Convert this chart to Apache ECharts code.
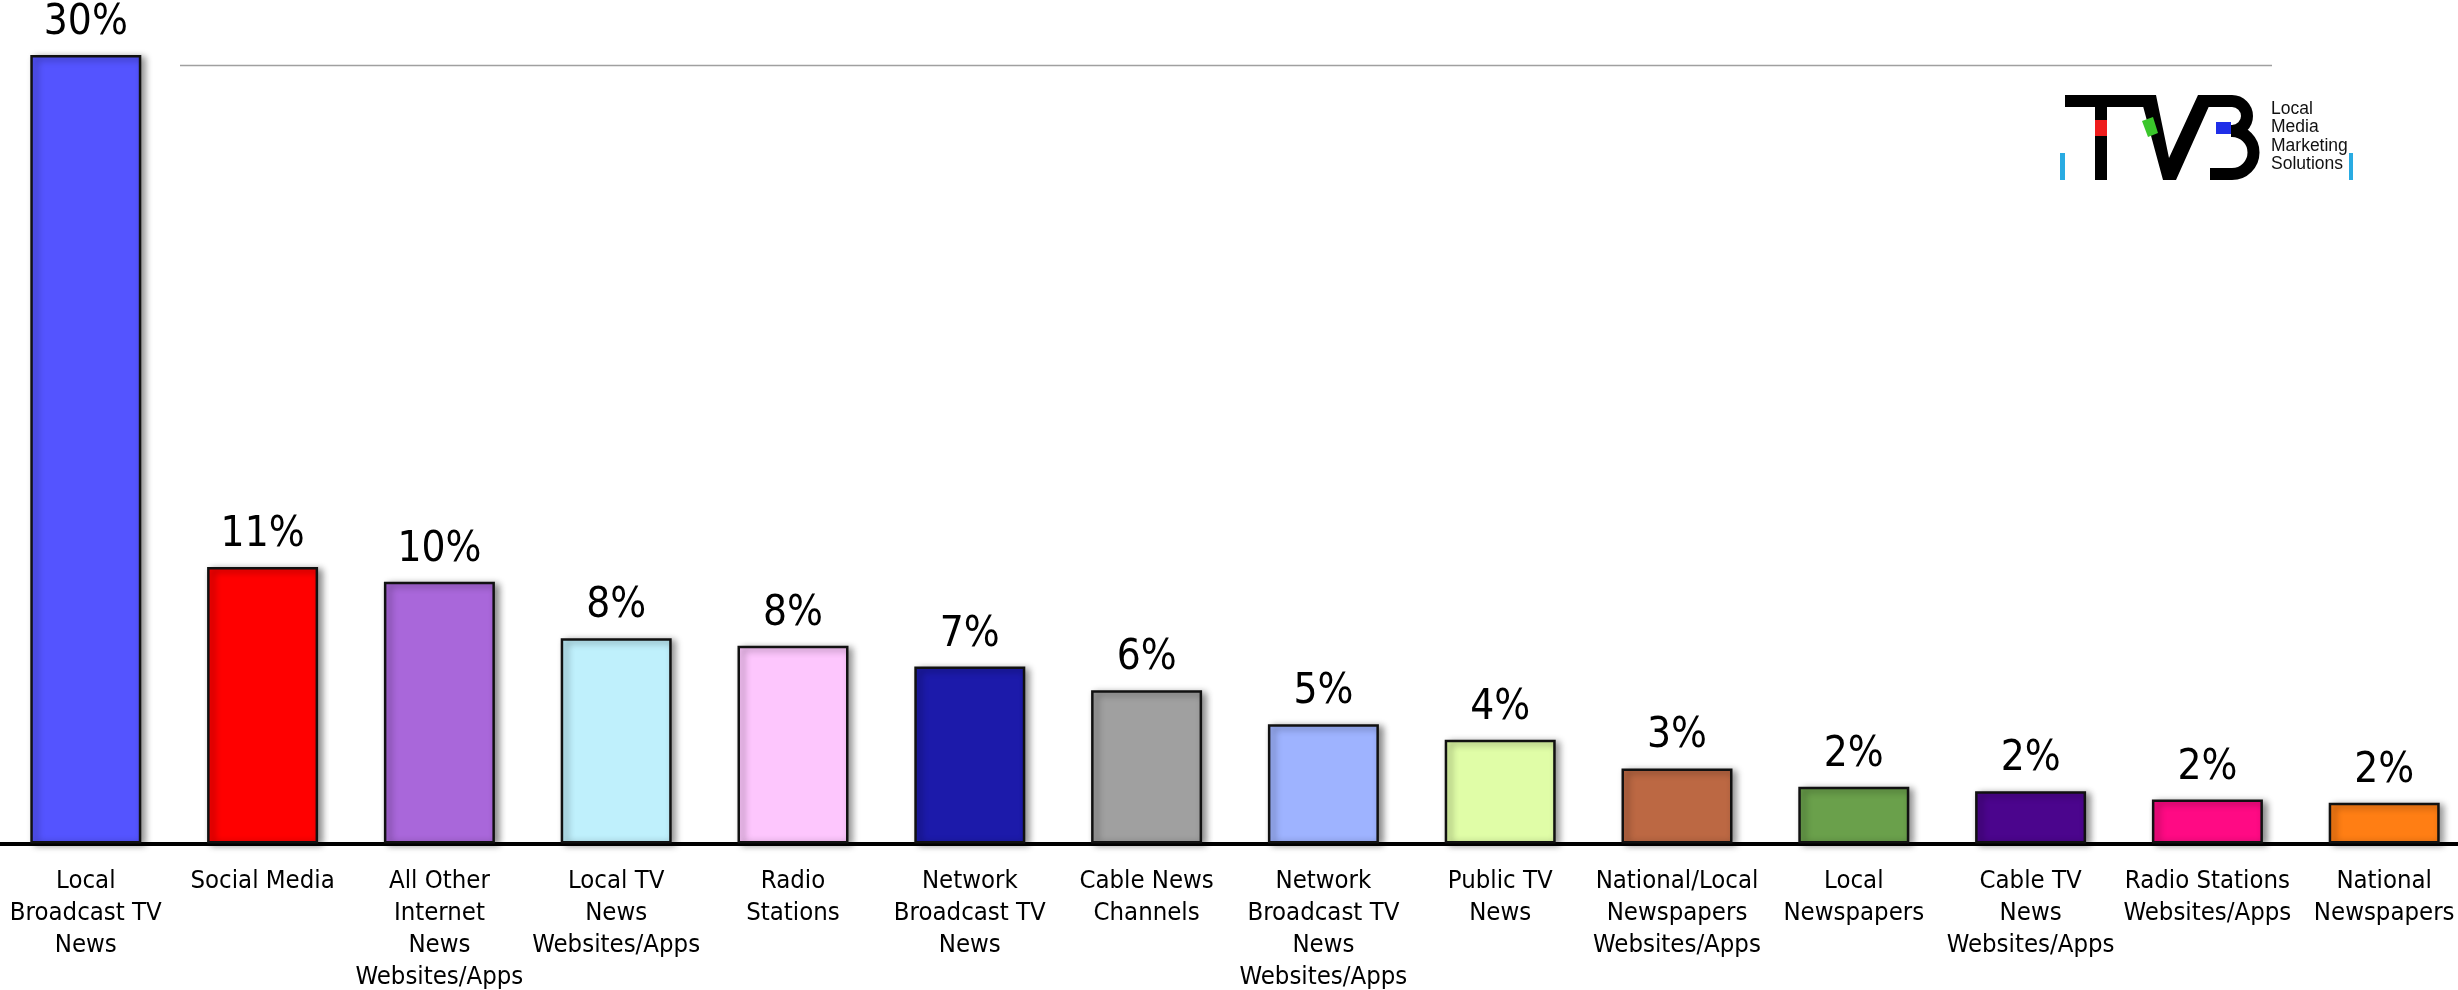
<!DOCTYPE html>
<html>
<head>
<meta charset="utf-8">
<title>News Sources</title>
<script src="https://cdn.jsdelivr.net/npm/echarts@6/dist/echarts.min.js"></script>
<style>
  html, body { margin: 0; padding: 0; background: #ffffff; }
  #chart { width: 2458px; height: 990px; }
</style>
</head>
<body>
<div id="chart"></div>
<script>
// Category names (line breaks as set on the axis)
const categories = [
  'Local\nBroadcast TV\nNews',
  'Social Media',
  'All Other\nInternet\nNews\nWebsites/Apps',
  'Local TV\nNews\nWebsites/Apps',
  'Radio\nStations',
  'Network\nBroadcast TV\nNews',
  'Cable News\nChannels',
  'Network\nBroadcast TV\nNews\nWebsites/Apps',
  'Public TV\nNews',
  'National/Local\nNewspapers\nWebsites/Apps',
  'Local\nNewspapers',
  'Cable TV\nNews\nWebsites/Apps',
  'Radio Stations\nWebsites/Apps',
  'National\nNewspapers'
];

// Share of respondents, percent
const shares = [30, 10.52, 9.96, 7.81, 7.52, 6.73, 5.83, 4.54, 3.95, 2.85, 2.16, 1.99, 1.67, 1.55];

// Fill colour for each bar
const barColors = [
  '#5454FF', '#FF0000', '#A967DA', '#BFF0FC', '#FDC6FD', '#1C1AAA', '#A0A0A0',
  '#9EB3FF', '#E0FDA7', '#BC6843', '#6AA04B', '#4B058D', '#FF0A84', '#FF7E14'
];

// Brand block text
const brandLines = ['Local', 'Media', 'Marketing', 'Solutions'];

const chart = echarts.init(document.getElementById('chart'), null, { renderer: 'canvas' });

const black = { stroke: '#000', lineWidth: 12, fill: 'none' };

const option = {
  backgroundColor: '#ffffff',
  animation: false,
  grid: {
    left: -2.6, width: 2475.2, top: 55, bottom: 146.5,
    containLabel: false,
    outerBoundsMode: 'none'
  },
  xAxis: {
    type: 'category',
    data: categories,
    axisLine: { show: true, lineStyle: { color: '#000000', width: 4 } },
    axisTick: { show: false },
    axisLabel: {
      interval: 0,
      margin: 22,
      color: '#000000',
      fontFamily: 'DejaVu Sans Condensed',
      fontSize: 25.5,
      lineHeight: 32,
      align: 'center'
    },
    splitLine: { show: false }
  },
  yAxis: {
    type: 'value',
    min: 0,
    max: 30,
    show: false,
    splitLine: { show: false }
  },
  series: [{
    type: 'bar',
    barWidth: 111,
    data: shares.map((v, i) => ({ value: v, itemStyle: { color: barColors[i] } })),
    itemStyle: {
      borderColor: '#111111',
      borderWidth: 2.5,
      shadowColor: 'rgba(0,0,0,0.45)',
      shadowBlur: 7,
      shadowOffsetX: 4,
      shadowOffsetY: 2
    },
    label: {
      show: true,
      position: 'top',
      distance: 11,
      color: '#000000',
      fontFamily: 'DejaVu Sans Condensed',
      fontSize: 42,
      formatter: p => Math.round(p.value) + '%'
    }
  }],
  graphic: {
    elements: [
      // thin rule across the top of the slide
      {
        type: 'line', silent: true,
        shape: { x1: 180, y1: 65.5, x2: 2272, y2: 65.5 },
        style: { stroke: '#a0a0a0', lineWidth: 1.6 }
      },
      // TVB mark: T
      { type: 'rect', silent: true, shape: { x: 2065, y: 95, width: 86, height: 12 }, style: { fill: '#000' } },
      { type: 'rect', silent: true, shape: { x: 2095, y: 107, width: 12, height: 73 }, style: { fill: '#000' } },
      { type: 'rect', silent: true, shape: { x: 2095, y: 120, width: 12, height: 16 }, style: { fill: '#ee1c1c' } },
      // V
      {
        type: 'polygon', silent: true,
        shape: { points: [[2140, 95], [2156, 95], [2169, 158], [2198, 95], [2214, 95], [2176, 180], [2163, 180]] },
        style: { fill: '#000' }
      },
      {
        type: 'polygon', silent: true,
        shape: { points: [[2142, 121], [2153, 117], [2158, 133], [2148, 137]] },
        style: { fill: '#3ac62b' }
      },
      // B
      { type: 'line', silent: true, shape: { x1: 2200, y1: 101, x2: 2232, y2: 101 }, style: black },
      { type: 'arc', silent: true, shape: { cx: 2232, cy: 116, r: 15, startAngle: -Math.PI / 2, endAngle: Math.PI / 2, clockwise: true }, style: black },
      { type: 'arc', silent: true, shape: { cx: 2232, cy: 152.5, r: 21.5, startAngle: -Math.PI / 2, endAngle: Math.PI / 2, clockwise: true }, style: black },
      { type: 'line', silent: true, shape: { x1: 2210, y1: 174, x2: 2232, y2: 174 }, style: black },
      { type: 'rect', silent: true, shape: { x: 2216, y: 122, width: 15, height: 12 }, style: { fill: '#1f2ee8' } },
      { type: 'rect', silent: true, shape: { x: 2231, y: 125, width: 4, height: 12 }, style: { fill: '#000' } },
      // side accents
      { type: 'rect', silent: true, shape: { x: 2060, y: 153, width: 5, height: 27 }, style: { fill: '#29abe2' } },
      { type: 'rect', silent: true, shape: { x: 2349, y: 153, width: 4, height: 27 }, style: { fill: '#29abe2' } },
      // tagline
      {
        type: 'text', silent: true,
        x: 2271, y: 100,
        style: {
          text: brandLines.join('\n'),
          fill: '#111111',
          font: '17.5px "Liberation Sans"',
          lineHeight: 18.3,
          verticalAlign: 'top',
          align: 'left'
        }
      }
    ]
  }
};

chart.setOption(option);
</script>
</body>
</html>
